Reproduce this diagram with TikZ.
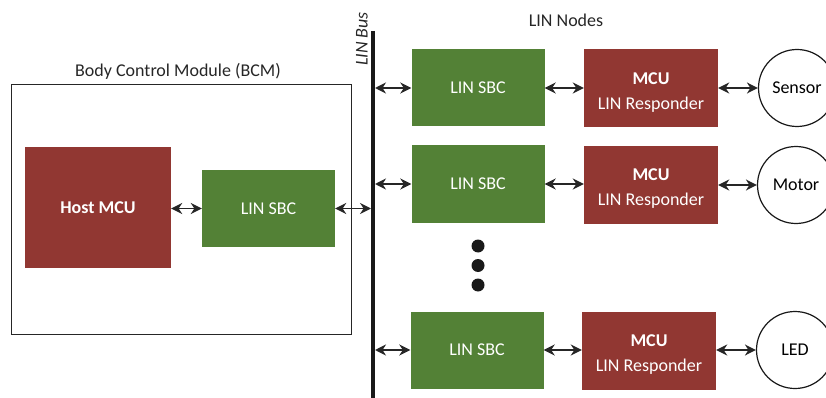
\documentclass[tikz,border=0pt]{standalone}
\usepackage{fontspec}
\setmainfont{Carlito}
\usetikzlibrary{arrows.meta,positioning}
\definecolor{mcured}{RGB}{145,55,50}
\definecolor{sbcgreen}{RGB}{83,129,54}
\newcommand{\boxfont}{\fontsize{18}{25}\selectfont}
\newcommand{\mcutext}{\rule{0pt}{19pt}\textbf{MCU}\\LIN Responder}

\tikzset{
	sbc/.style={fill=sbcgreen, text=white, minimum width=133pt, minimum height=77pt, inner sep=0pt, font=\boxfont},
	mcu/.style={fill=mcured, text=white, minimum width=134pt, minimum height=78pt, inner sep=0pt, align=center, font=\boxfont},
	device/.style={circle, draw=black!90, line width=1.2pt, minimum size=77pt, inner sep=0pt, font=\boxfont},
	link/.style={{Stealth[length=11pt,width=11pt]}-{Stealth[length=11pt,width=11pt]}, line width=1.8pt, draw=black!85},
	caption/.style={font=\boxfont, text=black!85}
}

\begin{document}
\begin{tikzpicture}[x=1pt, y=-1pt]
		%%%%% START %%%%%
		\useasboundingbox (0, 0) rectangle (826, 398);
		
		% body control module
		\node[draw=black!85, line width=1.2pt, minimum width=340pt, minimum height=250pt, anchor=north west, inner sep=0pt] (bcm) at (11, 84) {};
		\node[caption] (bcmtitle) at (178, 71) {Body Control Module (BCM)};
		\node[mcu, minimum width=146pt, minimum height=121pt] (host) at (98, 207.5) {\textbf{Host MCU}};
		\node[sbc] (bcmsbc) at (268.5, 208.5) {LIN SBC};
		
		% bus
		\coordinate (bustop) at (373, 31);
		\coordinate (busbot) at (373, 398);
		\draw[line width=4pt, black!90] (bustop) -- (busbot);
		\coordinate (busr) at (375, 0);
		\coordinate (busl) at (371, 0);
		\node[caption, rotate=90, font=\boxfont\itshape] (buslabel) at (362, 39) {LIN Bus};
		\node[caption] (nodestitle) at (566, 20) {LIN Nodes};
		
		% LIN nodes
		\node[sbc] (sbc1) at (478, 88) {LIN SBC};
		\node[mcu] (mcu1) at (651, 88.5) {\mcutext};
		\node[device] (dev1) at (797, 88) {Sensor};
		
		\node[sbc] (sbc2) at (478, 184) {LIN SBC};
		\node[mcu] (mcu2) at (651, 185) {\mcutext};
		\node[device] (dev2) at (796, 185) {Motor};
		
		\node[sbc] (sbc3) at (477, 350) {LIN SBC};
		\node[mcu] (mcu3) at (649, 351) {\mcutext};
		\node[device] (dev3) at (795, 350) {LED};
		
		\fill[black!90] (478, 246) circle (6.5);
		\fill[black!90] (478, 265.5) circle (6.5);
		\fill[black!90] (478, 285) circle (6.5);
		
		% links
		\draw[link] (host.east |- bcmsbc) -- (bcmsbc.west);
		\draw[link] (bcmsbc.east) -- (bcmsbc.east -| busl);
		\foreach \i in {1,2,3} {
			\draw[link] (sbc\i.west -| busr) -- (sbc\i.west);
			\draw[link] (sbc\i.east) -- (sbc\i.east -| mcu\i.west);
			\draw[link] (mcu\i.east |- dev\i) -- (dev\i.west);
		}
		%%%%% END %%%%%
\end{tikzpicture}
\end{document}
